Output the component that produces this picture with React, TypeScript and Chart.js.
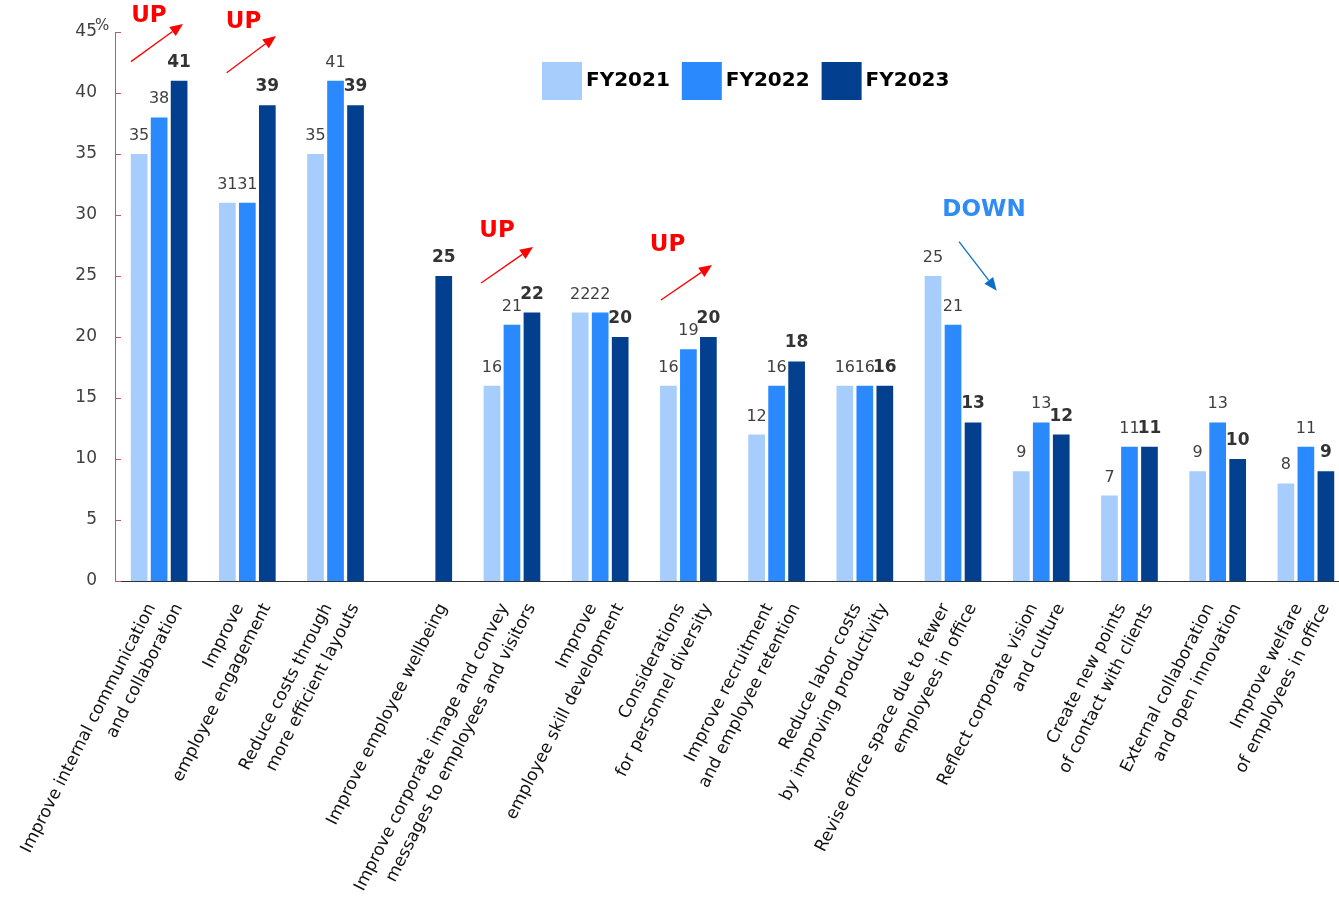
import React, { useEffect, useRef } from 'react';
import { Chart, registerables } from 'chart.js';

Chart.register(...registerables);

const categories: string[][] = [
  ['Improve internal communication', 'and collaboration'],
  ['Improve', 'employee engagement'],
  ['Reduce costs through', 'more efficient layouts'],
  ['Improve employee wellbeing'],
  ['Improve corporate image and convey', 'messages to employees and visitors'],
  ['Improve', 'employee skill development'],
  ['Considerations', 'for personnel diversity'],
  ['Improve recruitment', 'and employee retention'],
  ['Reduce labor costs', 'by improving productivity'],
  ['Revise office space due to fewer', 'employees in office'],
  ['Reflect corporate vision', 'and culture'],
  ['Create new points', 'of contact with clients'],
  ['External collaboration', 'and open innovation'],
  ['Improve welfare', 'of employees in office'],
];

const fy2021: (number | null)[] = [35, 31, 35, null, 16, 22, 16, 12, 16, 25, 9, 7, 9, 8];
const fy2022: (number | null)[] = [38, 31, 41, null, 21, 22, 19, 16, 16, 21, 13, 11, 13, 11];
const fy2023: (number | null)[] = [41, 39, 39, 25, 22, 20, 20, 18, 16, 13, 12, 11, 10, 9];

const seriesNames = ['FY2021', 'FY2022', 'FY2023'];
const yTickValues = [0, 5, 10, 15, 20, 25, 30, 35, 40, 45];
const yUnit = '%';

// Trend annotations, anchored to (category index + fraction of a category, value)
const trendTexts = [
  { text: 'UP', cat: 0, dx: -0.115, v: 46.27, kind: 'up' },
  { text: 'UP', cat: 1, dx: -0.043, v: 45.82, kind: 'up' },
  { text: 'UP', cat: 4, dx: -0.169, v: 28.69, kind: 'up' },
  { text: 'UP', cat: 6, dx: -0.237, v: 27.5, kind: 'up' },
  { text: 'DOWN', cat: 9, dx: 0.351, v: 30.37, kind: 'down' },
];
const trendArrows = [
  { cat: 0, dx0: -0.319, v0: 42.57, dx1: 0.271, v1: 45.66, kind: 'up' },
  { cat: 1, dx0: -0.234, v0: 41.66, dx1: 0.325, v1: 44.67, kind: 'up' },
  { cat: 4, dx0: -0.35, v0: 24.43, dx1: 0.239, v1: 27.38, kind: 'up' },
  { cat: 6, dx0: -0.311, v0: 23.03, dx1: 0.268, v1: 25.9, kind: 'up' },
  { cat: 9, dx0: 0.068, v0: 27.81, dx1: 0.495, v1: 23.8, kind: 'down' },
];

const COLORS = ['#a6cdfc', '#2a89fd', '#023f8e'];
const FONT = '"DejaVu Sans", Verdana, sans-serif';
const LABEL_ANGLE = 63;

function drawArrow(ctx: CanvasRenderingContext2D, x0: number, y0: number, x1: number, y1: number, color: string) {
  const ang = Math.atan2(y1 - y0, x1 - x0);
  const headLen = 13;
  const headHalf = 5.5;
  const bx = x1 - headLen * Math.cos(ang);
  const by = y1 - headLen * Math.sin(ang);
  ctx.save();
  ctx.strokeStyle = color;
  ctx.fillStyle = color;
  ctx.lineWidth = 1.3;
  ctx.beginPath();
  ctx.moveTo(x0, y0);
  ctx.lineTo(bx, by);
  ctx.stroke();
  ctx.beginPath();
  ctx.moveTo(x1, y1);
  ctx.lineTo(bx + headHalf * Math.sin(ang), by - headHalf * Math.cos(ang));
  ctx.lineTo(bx - headHalf * Math.sin(ang), by + headHalf * Math.cos(ang));
  ctx.closePath();
  ctx.fill();
  ctx.restore();
}

const decorPlugin = {
  id: 'decor',
  afterDraw(chart: any) {
    const ctx: CanvasRenderingContext2D = chart.ctx;
    const xs = chart.scales.x;
    const ys = chart.scales.y;
    const area = chart.chartArea;
    const catW = (area.right - area.left) / categories.length;

    // y axis inward ticks
    ctx.save();
    ctx.strokeStyle = '#be5a6e';
    ctx.lineWidth = 1;
    yTickValues.forEach((v) => {
      const py = Math.round(ys.getPixelForValue(v)) + 0.5;
      ctx.beginPath();
      ctx.moveTo(area.left, py);
      ctx.lineTo(area.left + 6, py);
      ctx.stroke();
    });
    ctx.restore();

    // unit
    ctx.save();
    ctx.fillStyle = '#404040';
    ctx.font = `15px ${FONT}`;
    ctx.textAlign = 'left';
    ctx.textBaseline = 'alphabetic';
    ctx.fillText(yUnit, area.left - 20, ys.getPixelForValue(45) - 2);
    ctx.restore();

    // data labels
    const all = [fy2021, fy2022, fy2023];
    all.forEach((vals, d) => {
      const meta = chart.getDatasetMeta(d);
      ctx.save();
      ctx.textAlign = 'center';
      ctx.textBaseline = 'alphabetic';
      if (d === 2) {
        ctx.font = `bold 17px ${FONT}`;
        ctx.fillStyle = '#333333';
      } else {
        ctx.font = `16px ${FONT}`;
        ctx.fillStyle = '#404040';
      }
      vals.forEach((v, i) => {
        if (v === null) return;
        const el = meta.data[i];
        ctx.fillText(String(v), el.x, el.y - 14);
      });
      ctx.restore();
    });

    // category labels
    ctx.save();
    ctx.fillStyle = '#111111';
    ctx.font = `17px ${FONT}`;
    ctx.textAlign = 'right';
    ctx.textBaseline = 'top';
    categories.forEach((lines, i) => {
      const cx = xs.getPixelForValue(i);
      const n = lines.length;
      lines.forEach((line, j) => {
        const ex = cx + 12 - (n - 1 - j) * 27;
        const ey = 601;
        ctx.save();
        ctx.translate(ex, ey);
        ctx.rotate((-LABEL_ANGLE * Math.PI) / 180);
        ctx.fillText(line, 0, 0);
        ctx.restore();
      });
    });
    ctx.restore();

    // legend
    ctx.save();
    let lx = 542;
    const ly = 62;
    ctx.font = `bold 20px ${FONT}`;
    ctx.textBaseline = 'middle';
    ctx.textAlign = 'left';
    seriesNames.forEach((name, k) => {
      ctx.fillStyle = COLORS[k];
      ctx.fillRect(lx, ly, 40, 38);
      ctx.fillStyle = '#000000';
      ctx.fillText(name, lx + 44, ly + 19);
      lx += 44 + ctx.measureText(name).width + 12;
    });
    ctx.restore();

    // trend annotations
    trendArrows.forEach((a) => {
      const cx = xs.getPixelForValue(a.cat);
      const color = a.kind === 'up' ? '#ff0000' : '#0a6fc6';
      drawArrow(ctx, cx + a.dx0 * catW, ys.getPixelForValue(a.v0), cx + a.dx1 * catW, ys.getPixelForValue(a.v1), color);
    });
    ctx.save();
    ctx.font = `bold 23px ${FONT}`;
    ctx.textAlign = 'center';
    ctx.textBaseline = 'middle';
    trendTexts.forEach((t) => {
      const cx = xs.getPixelForValue(t.cat);
      ctx.fillStyle = t.kind === 'up' ? '#ff0000' : '#2f8cf2';
      ctx.fillText(t.text, cx + t.dx * catW, ys.getPixelForValue(t.v));
    });
    ctx.restore();
  },
};

export default function App() {
  const ref = useRef<HTMLCanvasElement | null>(null);
  useEffect(() => {
    if (!ref.current) return;
    const chart = new Chart(ref.current, {
      type: 'bar',
      data: {
        labels: categories.map((c) => c.join(' ')),
        datasets: seriesNames.map((name, k) => ({
          label: name,
          data: [fy2021, fy2022, fy2023][k],
          backgroundColor: COLORS[k],
          barPercentage: 0.835,
          categoryPercentage: 0.68,
        })),
      },
      options: {
        responsive: false,
        maintainAspectRatio: false,
        animation: false,
        devicePixelRatio: 1,
        layout: { padding: { top: 32, right: 2, left: 0, bottom: 0 } },
        plugins: { legend: { display: false }, tooltip: { enabled: false } },
        scales: {
          x: {
            grid: { display: false, drawTicks: false },
            border: { display: true, color: '#333333', width: 1 },
            ticks: { display: false },
            afterFit: (s: any) => {
              s.height = 317;
            },
          },
          y: {
            min: 0,
            max: 45,
            afterBuildTicks: (s: any) => {
              s.ticks = yTickValues.map((v) => ({ value: v }));
            },
            ticks: { padding: 18, color: '#404040', font: { family: FONT, size: 17 } },
            grid: { display: false, drawTicks: false },
            border: { display: true, color: '#be5a6e', width: 1 },
            afterFit: (s: any) => {
              s.width = 115;
            },
          },
        },
      },
      plugins: [decorPlugin],
    } as any);
    return () => chart.destroy();
  }, []);
  return (
    <div style={{ position: 'fixed', left: 0, top: 0, width: 1339, height: 898, overflow: 'hidden', background: '#fff' }}>
      <canvas ref={ref} width={1352} height={898} style={{ display: 'block', width: 1352, height: 898 }} />
    </div>
  );
}
